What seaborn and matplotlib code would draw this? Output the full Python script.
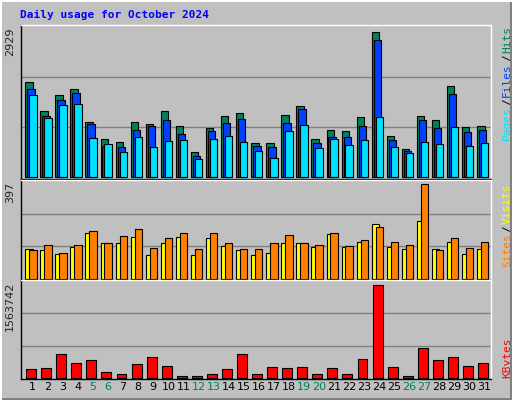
import numpy as np
import matplotlib
matplotlib.use("Agg")
import matplotlib.pyplot as plt
import seaborn as sns
from matplotlib.patches import Rectangle

days = list(range(1, 32))
weekend = [5, 6, 12, 13, 19, 20, 26, 27]
hits = [1910, 1331, 1651, 1771, 1112, 772, 712, 1112, 1072, 1331, 1032, 513, 992, 1232, 1291, 692,
        692, 1252, 1431, 772, 952, 932, 1212, 2929, 832, 572, 1232, 1152, 1831, 1012, 1032]
files = [1771, 1232, 1551, 1691, 1072, 632, 612, 952, 1032, 1152, 872, 413, 932, 1092, 1172, 632,
         612, 1092, 1371, 692, 812, 812, 1032, 2749, 752, 533, 1152, 992, 1671, 912, 952]
pages = [1651, 1192, 1451, 1471, 792, 672, 493, 812, 612, 732, 752, 353, 772, 832, 712, 533,
         373, 932, 1052, 592, 772, 652, 752, 1212, 612, 473, 712, 672, 1012, 632, 692]
visits = [125, 121, 104, 134, 190, 147, 151, 173, 99, 151, 173, 99, 168, 138, 121, 99,
          108, 151, 151, 134, 186, 134, 155, 229, 134, 125, 242, 125, 155, 104, 125]
sites = [121, 142, 108, 142, 199, 147, 177, 207, 129, 168, 190, 125, 190, 147, 125, 125,
         151, 181, 147, 142, 190, 138, 160, 216, 155, 142, 397, 121, 168, 129, 155]
kbytes = [137000, 155000, 395000, 241000, 292000, 86000, 52000, 223000, 344000, 189000, 34000,
          34000, 52000, 137000, 395000, 52000, 172000, 155000, 172000, 52000, 155000, 52000,
          309000, 1563742, 172000, 34000, 498000, 292000, 344000, 189000, 241000]

sns.set_style("white")
plt.rcParams['font.family'] = ['DejaVu Sans Mono']
BG = "#C0C0C0"
W, H = 512, 400

fig = plt.figure(figsize=(5.12, 4.0), dpi=100, facecolor=BG)
# bevel border
fig.patches.append(Rectangle((0, 0), 1, 2 / H, transform=fig.transFigure, fc="#808080", ec="none"))
fig.patches.append(Rectangle((1 - 2 / W, 0), 2 / W, 1, transform=fig.transFigure, fc="#808080", ec="none"))
fig.patches.append(Rectangle((0, 1 - 2 / H), 1, 2 / H, transform=fig.transFigure, fc="white", ec="none"))
fig.patches.append(Rectangle((0, 0), 2 / W, 1, transform=fig.transFigure, fc="white", ec="none"))


def mkax(top, bottom):
    ax = fig.add_axes([20.7 / W, 1 - bottom / H, 470 / W, (bottom - top) / H], facecolor=BG)
    ax.set_xlim(-0.3, 30.9)
    ax.set_xticks([])
    ax.set_yticks([])
    for s in ax.spines.values():
        s.set_linewidth(1)
    ax.spines['top'].set_color("white"); ax.spines['right'].set_color("white")
    ax.spines['left'].set_color("black"); ax.spines['bottom'].set_color("black")
    return ax


x = np.arange(31)
lw = 0.8

ax1 = mkax(24.7, 178.5)
top1 = max(hits) / 0.955
ax1.set_ylim(-top1 * 0.01, top1)
for k in (1, 2):
    ax1.axhline(top1 * 0.98 * k / 3, color="#808080", lw=1, zorder=0)
ax1.bar(x, hits, 0.49, align="edge", color="#00805C", edgecolor="black", lw=lw)
ax1.bar(x + 0.13, files, 0.49, align="edge", color="#0040FF", edgecolor="black", lw=lw)
ax1.bar(x + 0.26, pages, 0.49, align="edge", color="#00E0FF", edgecolor="black", lw=lw)

ax2 = mkax(179.5, 279.5)
top2 = max(sites) / 0.955
ax2.set_ylim(-top2 * 0.01, top2)
for k in (1, 2):
    ax2.axhline(top2 * 0.98 * k / 3, color="#808080", lw=1, zorder=0)
ax2.bar(x, visits, 0.49, align="edge", color="#FFFF00", edgecolor="black", lw=lw)
ax2.bar(x + 0.26, sites, 0.49, align="edge", color="#FF8000", edgecolor="black", lw=lw)

ax3 = mkax(279.5, 378.5)
top3 = max(kbytes) / 0.94
ax3.set_ylim(-top3 * 0.01, top3)
for k in (1, 2):
    ax3.axhline(top3 * 0.98 * k / 3, color="#808080", lw=1, zorder=0)
ax3.bar(x + 0.06, kbytes, 0.66, align="edge", color="#FF0000", edgecolor="black", lw=lw)

for d in days:
    ax3.text(d - 1 + 0.5, -0.04, str(d), transform=ax3.get_xaxis_transform(), ha="center", va="top",
             fontsize=8, color="#00805C" if d in weekend else "black", family="DejaVu Sans")

fig.text(20 / W, 1 - 15 / H, "Daily usage for October 2024", color="#0000FF", fontsize=8,
         fontweight="bold", va="center", ha="left")

for ax, val in ((ax1, max(hits)), (ax2, max(sites)), (ax3, max(kbytes))):
    ax.text(-0.012, 0.98, str(val), transform=ax.transAxes, rotation=90, ha="right", va="top",
            fontsize=8, family="DejaVu Sans")


def side(ax, parts, y=0.99):
    # parts listed top to bottom; text reads bottom-to-top
    t = ax.text(1.035, y, parts[0][0], transform=ax.transAxes, rotation=90, ha="center",
                va="top", fontsize=8, color=parts[0][1])
    for s, c in parts[1:]:
        t = ax.annotate(s, xycoords=t, xy=(0.5, 0), xytext=(0, -1), textcoords="offset points",
                        va="top", ha="center", rotation=90, fontsize=8, color=c)


side(ax1, [("Hits", "#00805C"), ("/", "black"), ("Files", "#0040FF"), ("/", "black"), ("Pages", "#00E0FF")])
side(ax2, [("Visits", "#FFFF00"), ("/", "black"), ("Sites", "#FF8000")], y=0.96)
side(ax3, [("KBytes", "#FF0000")], y=0.93)
ax3.texts[-1].set_position((1.035, 0.01))
ax3.texts[-1].set_va("bottom")

fig.savefig("out.png", dpi=100, facecolor=BG)
